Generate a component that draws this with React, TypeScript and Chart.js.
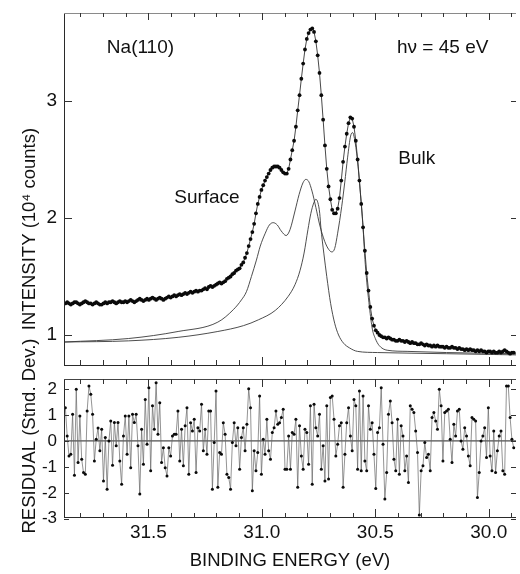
import React, { useEffect, useRef } from "react";
import { Chart, registerables } from "chart.js";

Chart.register(...registerables);

const FONT = "'Liberation Sans', Arial, Helvetica, sans-serif";

// Binding-energy grid of the measured spectrum (eV), first point and step
const E_START = 31.866;
const E_STEP = 0.008;

// Measured intensity (10^4 counts), one value per grid point
const INTENSITY = [
  1.27, 1.28, 1.27, 1.26, 1.27, 1.28, 1.28, 1.27, 1.26, 1.27,
  1.28, 1.29, 1.28, 1.27, 1.27, 1.26, 1.27, 1.28, 1.27, 1.26,
  1.26, 1.27, 1.28, 1.27, 1.28, 1.28, 1.29, 1.28, 1.27, 1.28,
  1.29, 1.28, 1.28, 1.29, 1.28, 1.29, 1.30, 1.29, 1.28, 1.29,
  1.30, 1.31, 1.30, 1.29, 1.30, 1.31, 1.30, 1.31, 1.32, 1.31,
  1.30, 1.31, 1.32, 1.31, 1.30, 1.31, 1.32, 1.33, 1.32, 1.33,
  1.34, 1.33, 1.34, 1.35, 1.34, 1.35, 1.36, 1.35, 1.36, 1.37,
  1.36, 1.37, 1.38, 1.37, 1.38, 1.38, 1.39, 1.40, 1.39, 1.41,
  1.42, 1.41, 1.42, 1.43, 1.44, 1.45, 1.44, 1.45, 1.46, 1.48,
  1.49, 1.50, 1.52, 1.53, 1.55, 1.56, 1.57, 1.60, 1.62, 1.66,
  1.70, 1.76, 1.82, 1.88, 1.95, 2.04, 2.12, 2.18, 2.24, 2.28,
  2.32, 2.35, 2.38, 2.41, 2.43, 2.44, 2.44, 2.44, 2.43, 2.41,
  2.39, 2.38, 2.38, 2.42, 2.50, 2.58, 2.66, 2.78, 2.92, 3.05,
  3.19, 3.32, 3.44, 3.53, 3.58, 3.61, 3.62, 3.59, 3.51, 3.39,
  3.24, 3.05, 2.84, 2.62, 2.42, 2.27, 2.16, 2.07, 2.04, 2.04,
  2.08, 2.17, 2.32, 2.48, 2.61, 2.72, 2.81, 2.86, 2.85, 2.78,
  2.66, 2.50, 2.32, 2.12, 1.92, 1.72, 1.53, 1.38, 1.24, 1.14,
  1.08, 1.04, 1.02, 1.00, 0.99, 0.98, 0.98, 0.97, 0.98, 0.97,
  0.96, 0.96, 0.95, 0.95, 0.96, 0.95, 0.95, 0.94, 0.95, 0.94,
  0.93, 0.94, 0.93, 0.93, 0.92, 0.92, 0.93, 0.92, 0.91, 0.92,
  0.91, 0.91, 0.90, 0.91, 0.90, 0.91, 0.90, 0.90, 0.90, 0.89,
  0.90, 0.89, 0.89, 0.90, 0.89, 0.89, 0.88, 0.89, 0.88, 0.88,
  0.87, 0.88, 0.87, 0.88, 0.87, 0.87, 0.86, 0.87, 0.86, 0.87,
  0.86, 0.86, 0.85, 0.86, 0.86, 0.85, 0.86, 0.85, 0.85, 0.86,
  0.85, 0.86, 0.87, 0.86, 0.85, 0.84, 0.85, 0.85,
];

// Fit residuals (standard deviations), one value per grid point
const RESIDUAL = [
  1.28, 0.19, -0.58, -0.51, 1.03, -1.32, 1.99, -0.83, 0.96, -0.71,
  -1.22, -1.28, 1.15, 2.12, 1.8, 1.03, -0.77, 0.06, 0.5, -0.38,
  0.45, -1.54, 0.13, -1.86, 0, 0.77, -0.94, 0.71, -0.19, 0.71,
  -0.77, -1.67, 0.19, 0.96, -0.51, 0.96, -1.03, 1.03, 0.71, 1.03,
  -0.19, -2.05, 0.45, -0.9, 1.6, -0.13, 2.05, -1.15, 1.35, 0.45,
  2.24, 0.26, 1.47, -0.83, -0.26, -1.03, -1.35, -0.26, -0.58, 0.19,
  0.26, 0.26, 1.15, -0.77, 0.45, -0.96, 0.58, 1.28, -1.28, 0.7,
  0.38, 0.83, -1.22, 0.51, 0.38, 1.41, -0.38, 0.45, -0.51, 1.15,
  1.15, -1.86, -0.06, 1.92, -1.79, -0.45, -0.51, 0.7, 0.26, -1.28,
  -1.41, -1.86, -0.06, 0.7, -0.19, 0.51, -1.09, 0.13, 0.51, -0.38,
  0.64, 2.01, 1.28, -1.92, -0.38, -1.15, -0.45, 1.73, -1.28, 0.06,
  -0.51, 0.83, -0.38, -0.71, 0.32, 0.51, 1.15, 0.64, 0.7, 0.9,
  1.22, -1.09, -1.09, 0.19, -1.09, 0.32, 0.26, 0.83, -1.79, 0.58,
  -0.58, -1.09, 0.45, 0.32, -0.9, 1.35, -1.67, 1.41, 0.51, 0.19,
  1.03, -1.09, -0.19, -1.54, 1.35, -1.47, 1.67, 1.73, 0.83, -0.58,
  -0.13, 0.58, 0.7, -1.79, -0.51, 0.7, 1.28, 0.19, -0.38, 1.6,
  1.35, -1.09, 1.92, -1.15, 1.73, -0.77, -1.15, 1.35, 0.45, 0.7,
  -0.51, -1.83, 0.32, 0.51, 2.05, -0.13, -2.24, -1.22, 1.03, 1.54,
  0.7, -0.71, -1.15, 0.83, -1.28, 0.58, 0.19, -1.15, -0.58, -1.6,
  1.35, 1.22, 1.09, 0.38, -0.45, -2.85, -1.15, -0.96, -0.06, -0.64,
  -0.51, -1.15, 0.9, 1.09, 0.77, 0.45, 1.99, 1.35, -0.77, 1.09,
  1.15, 1.22, 0.06, -0.83, 0.64, 0.19, 1.15, 1.22, 0, -0.32,
  0.51, 0.19, -0.58, -0.96, 0.9, 0.83, 0.77, -2.18, -1.22, 0,
  0.19, 0.51, -0.64, 1.28, -0.58, -1.15, 0.38, -1.22, -0.38, 0.19,
  0.38, -1.15, -1.28, 2.12, 2.12, 0.9, 0.06, -0.26,
];

// Upper fitted component curve (two surface peaks + bulk peak)
const FIT_A_E = [
  31.871, 31.587, 31.369, 31.194, 31.124, 31.09, 31.068, 31.046, 31.024, 31.007,
  30.985, 30.967, 30.95, 30.932, 30.915, 30.893, 30.876, 30.854, 30.836, 30.819,
  30.806, 30.793, 30.779, 30.762, 30.745, 30.723, 30.705, 30.692, 30.679, 30.666,
  30.648, 30.635, 30.622, 30.609, 30.6, 30.592, 30.579, 30.566, 30.557, 30.544,
  30.526, 30.513, 30.5, 30.483, 30.448, 30.36, 30.186, 29.88,
];
const FIT_A_V = [
  0.94, 0.97, 1.03, 1.11, 1.22, 1.3, 1.37, 1.5, 1.64, 1.76,
  1.87, 1.94, 1.96, 1.94, 1.89, 1.85, 1.9, 2.06, 2.2, 2.3,
  2.33, 2.31, 2.23, 2.09, 1.94, 1.8, 1.73, 1.71, 1.74, 1.87,
  2.1, 2.3, 2.52, 2.7, 2.73, 2.68, 2.5, 2.22, 2.01, 1.6,
  1.24, 1.05, 0.97, 0.91, 0.87, 0.86, 0.85, 0.84,
];

// Lower fitted component curve (single peak)
const FIT_B_E = [
  31.871, 31.587, 31.369, 31.194, 31.081, 31.015, 30.941, 30.884, 30.854, 30.832,
  30.814, 30.797, 30.784, 30.771, 30.762, 30.753, 30.745, 30.74, 30.727, 30.714,
  30.697, 30.679, 30.662, 30.64, 30.614, 30.579, 30.491, 30.186, 29.88,
];
const FIT_B_V = [
  0.94, 0.95, 0.98, 1.03, 1.08, 1.13, 1.21, 1.33, 1.43, 1.55,
  1.7, 1.9, 2.04, 2.13, 2.16, 2.13, 2.04, 1.92, 1.7, 1.5,
  1.27, 1.1, 1.0, 0.93, 0.89, 0.86, 0.85, 0.84, 0.83,
];

// Axis ranges and ticks
const X_MIN = 29.88;
const X_MAX = 31.872;
const X_MAJOR = [31.5, 31.0, 30.5, 30.0];
const X_MINOR = [31.8, 31.7, 31.6, 31.4, 31.3, 31.2, 31.1, 30.9, 30.8, 30.7, 30.6, 30.4, 30.3, 30.2, 30.1, 29.9];
const Y_TOP_MIN = 0.735;
const Y_TOP_MAX = 3.752;
const Y_TOP_TICKS = [1, 2, 3];
const Y_RES_MIN = -2.97;
const Y_RES_MAX = 2.385;
const Y_RES_TICKS = [-3, -2, -1, 0, 1, 2];

// Text labels placed in data coordinates of the upper panel
const LABEL_TEXT = ["Na(110)", "hν = 45 eV", "Surface", "Bulk"];
const LABEL_E = [31.535, 30.203, 31.242, 30.317];
const LABEL_V = [3.453, 3.453, 2.171, 2.504];

const ENERGY = INTENSITY.map((_, i) => +(E_START - i * E_STEP).toFixed(3));

type TickSpec = {
  topMinor: number; topMajor: number; botMinor: number; botMajor: number;
  left: number; right: number; yTicks: number[]; topColor: string;
};

function framePlugin(spec: TickSpec) {
  return {
    id: "frameTicks",
    afterDatasetsDraw(chart: any) {
      const { ctx, chartArea: a, scales } = chart;
      const xs = scales.x;
      const ys = scales.y;
      ctx.save();
      ctx.lineWidth = 1;
      ctx.strokeStyle = "#2a2a2a";
      ctx.beginPath();
      ctx.moveTo(a.left + 0.5, a.top);
      ctx.lineTo(a.left + 0.5, a.bottom);
      ctx.moveTo(a.left, a.bottom - 0.5);
      ctx.lineTo(a.right, a.bottom - 0.5);
      ctx.stroke();
      ctx.strokeStyle = spec.topColor;
      ctx.beginPath();
      ctx.moveTo(a.left, a.top + 0.5);
      ctx.lineTo(a.right, a.top + 0.5);
      ctx.stroke();
      ctx.strokeStyle = "#333";
      ctx.beginPath();
      const xt = (v: number, major: boolean) => {
        const px = Math.round(xs.getPixelForValue(v)) + 0.5;
        const lt = major ? spec.topMajor : spec.topMinor;
        const lb = major ? spec.botMajor : spec.botMinor;
        ctx.moveTo(px, a.top);
        ctx.lineTo(px, a.top + lt);
        ctx.moveTo(px, a.bottom);
        ctx.lineTo(px, a.bottom - lb);
      };
      X_MINOR.forEach((v) => xt(v, false));
      X_MAJOR.forEach((v) => xt(v, true));
      spec.yTicks.forEach((v) => {
        const py = Math.round(ys.getPixelForValue(v)) + 0.5;
        ctx.moveTo(a.left, py);
        ctx.lineTo(a.left + spec.left, py);
        ctx.moveTo(a.right, py);
        ctx.lineTo(a.right - spec.right, py);
      });
      ctx.stroke();
      ctx.restore();
    },
  };
}

function sideTitlePlugin(text: string, cx: number, cy: number) {
  return {
    id: "sideTitle",
    afterDraw(chart: any) {
      const ctx = chart.ctx;
      ctx.save();
      ctx.translate(cx, cy);
      ctx.rotate(-Math.PI / 2);
      ctx.font = `18.5px ${FONT}`;
      ctx.fillStyle = "#111";
      ctx.textAlign = "center";
      ctx.textBaseline = "alphabetic";
      ctx.fillText(text, 0, 0);
      ctx.restore();
    },
  };
}

const labelPlugin = {
  id: "panelLabels",
  afterDatasetsDraw(chart: any) {
    const { ctx, scales } = chart;
    ctx.save();
    ctx.font = `19px ${FONT}`;
    ctx.fillStyle = "#111";
    ctx.textAlign = "center";
    ctx.textBaseline = "middle";
    LABEL_TEXT.forEach((t, i) => {
      ctx.fillText(t, scales.x.getPixelForValue(LABEL_E[i]), scales.y.getPixelForValue(LABEL_V[i]));
    });
    ctx.restore();
  },
};

const fixY = (s: any) => {
  s.width = 64;
  s.paddingTop = 0;
  s.paddingBottom = 0;
};
const fixX = (s: any) => {
  s.paddingLeft = 0;
  s.paddingRight = 0;
};
const fixXBottom = (s: any) => {
  s.paddingLeft = 0;
  s.paddingRight = 0;
  s.height = 56;
};

export default function App() {
  const topRef = useRef<HTMLCanvasElement>(null);
  const botRef = useRef<HTMLCanvasElement>(null);

  useEffect(() => {
    const spectrum = ENERGY.map((e, i) => ({ x: e, y: INTENSITY[i] }));
    const resid = ENERGY.map((e, i) => ({ x: e, y: RESIDUAL[i] }));
    const fitA = FIT_A_E.map((e, i) => ({ x: e, y: FIT_A_V[i] }));
    const fitB = FIT_B_E.map((e, i) => ({ x: e, y: FIT_B_V[i] }));

    const xCommon = {
      type: "linear" as const,
      reverse: true,
      min: X_MIN,
      max: X_MAX,
      grid: { display: false, drawTicks: false, tickLength: 0 },
      border: { display: false },
    };

    const top = new Chart(topRef.current!, {
      type: "scatter",
      data: {
        datasets: [
          {
            data: spectrum,
            showLine: true,
            borderColor: "#333",
            borderWidth: 0.9,
            pointRadius: 1.9,
            pointBackgroundColor: "#0a0a0a",
            pointBorderWidth: 0,
          },
          {
            data: fitA,
            showLine: true,
            borderColor: "#3a3a3a",
            borderWidth: 0.9,
            pointRadius: 0,
            cubicInterpolationMode: "monotone",
          },
          {
            data: fitB,
            showLine: true,
            borderColor: "#3a3a3a",
            borderWidth: 0.9,
            pointRadius: 0,
            cubicInterpolationMode: "monotone",
          },
        ],
      },
      options: {
        responsive: false,
        animation: false,
        layout: { padding: { top: 13, right: 0, bottom: 6, left: 0 } },
        plugins: { legend: { display: false }, tooltip: { enabled: false } },
        scales: {
          x: { ...xCommon, display: false, afterFit: fixX },
          y: {
            min: Y_TOP_MIN,
            max: Y_TOP_MAX,
            afterBuildTicks: (s: any) => {
              s.ticks = Y_TOP_TICKS.map((v) => ({ value: v }));
            },
            afterFit: fixY,
            ticks: {
              font: { family: FONT, size: 19 },
              color: "#111",
              padding: 7,
              callback: (v: any) => String(v),
            },
            grid: { display: false, drawTicks: false, tickLength: 0 },
            border: { display: false },
          },
        },
      },
      plugins: [
        framePlugin({ topMinor: 4, topMajor: 7, botMinor: 6, botMajor: 9, left: 8, right: 5, yTicks: Y_TOP_TICKS, topColor: "#8a8a8a" }),
        labelPlugin,
        sideTitlePlugin("INTENSITY (10⁴ counts)", 35, 229),
      ],
    });

    const bot = new Chart(botRef.current!, {
      type: "scatter",
      data: {
        datasets: [
          {
            data: resid,
            showLine: true,
            borderColor: "#666",
            borderWidth: 0.7,
            pointRadius: 1.5,
            pointBackgroundColor: "#0a0a0a",
            pointBorderWidth: 0,
          },
          {
            data: [
              { x: X_MAX, y: 0 },
              { x: X_MIN, y: 0 },
            ],
            showLine: true,
            borderColor: "#222",
            borderWidth: 1,
            pointRadius: 0,
          },
        ],
      },
      options: {
        responsive: false,
        animation: false,
        layout: { padding: { top: 49, right: 0, bottom: 0, left: 0 } },
        plugins: { legend: { display: false }, tooltip: { enabled: false } },
        scales: {
          x: {
            ...xCommon,
            afterFit: fixXBottom,
            afterBuildTicks: (s: any) => {
              s.ticks = X_MAJOR.map((v) => ({ value: v }));
            },
            ticks: {
              font: { family: FONT, size: 19 },
              color: "#111",
              padding: 3,
              autoSkip: false,
              maxRotation: 0,
              callback: (v: any) => Number(v).toFixed(1),
            },
            title: {
              display: true,
              text: "BINDING ENERGY (eV)",
              font: { family: FONT, size: 18.5 },
              color: "#111",
              padding: { top: 0, bottom: 1.5 },
            },
          },
          y: {
            min: Y_RES_MIN,
            max: Y_RES_MAX,
            afterBuildTicks: (s: any) => {
              s.ticks = Y_RES_TICKS.map((v) => ({ value: v }));
            },
            afterFit: fixY,
            ticks: {
              font: { family: FONT, size: 17 },
              color: "#111",
              padding: 7,
              callback: (v: any) => String(v),
            },
            grid: { display: false, drawTicks: false, tickLength: 0 },
            border: { display: false },
          },
        },
      },
      plugins: [
        framePlugin({ topMinor: 5, topMajor: 8, botMinor: 5, botMajor: 9, left: 5, right: 5, yTicks: Y_RES_TICKS, topColor: "#444" }),
        sideTitlePlugin("RESIDUAL (Stnd. Dev.)", 35, 106),
      ],
    });

    return () => {
      top.destroy();
      bot.destroy();
    };
  }, []);

  return (
    <div style={{ position: "absolute", left: 0, top: 0, width: 520, height: 574, background: "#fff" }}>
      <canvas ref={topRef} width={520} height={372} style={{ position: "absolute", left: 0, top: 0 }} />
      <canvas ref={botRef} width={520} height={244} style={{ position: "absolute", left: 0, top: 330 }} />
    </div>
  );
}
